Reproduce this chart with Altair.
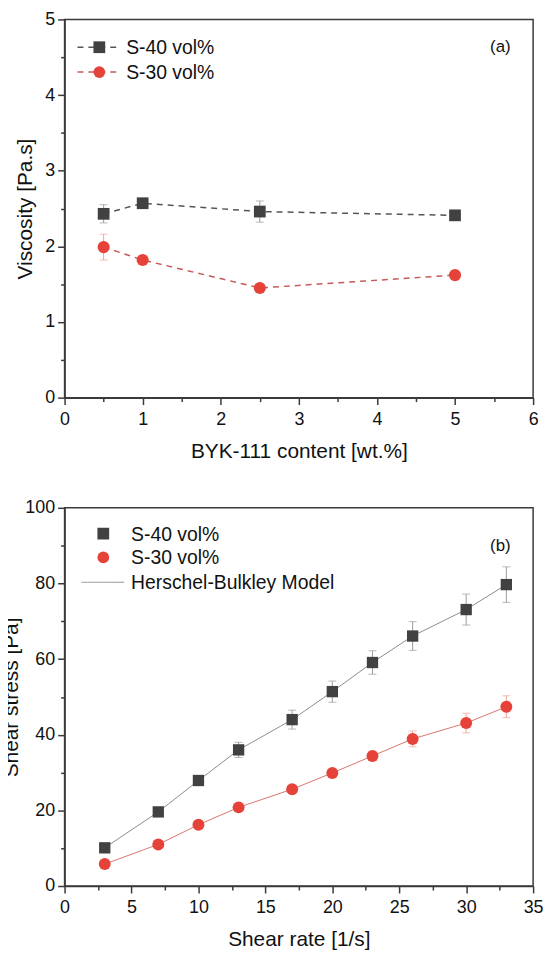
import altair as alt
import pandas as pd

# ---------------- data (a) ----------------
byk_content = [0.5, 1, 2.5, 5]
visc_s40 = [2.43, 2.57, 2.46, 2.41]
visc_s40_err = [0.12, 0.03, 0.14, 0.04]
visc_s30 = [1.99, 1.82, 1.45, 1.62]
visc_s30_err = [0.17, 0.04, 0.05, 0.05]

# ---------------- data (b) ----------------
shear_rate = [3, 7, 10, 13, 17, 20, 23, 26, 30, 33]
stress_s40 = [10.1, 19.6, 27.9, 36.0, 44.0, 51.4, 59.1, 66.1, 73.1, 79.7]
stress_s40_err = [0.6, 0.8, 1.3, 2.0, 2.5, 2.8, 3.1, 3.8, 4.1, 4.7]
stress_s30 = [5.8, 11.0, 16.2, 20.8, 25.6, 29.9, 34.4, 38.9, 43.1, 47.4]
stress_s30_err = [0.4, 0.5, 0.6, 0.6, 0.7, 0.8, 1.2, 2.1, 2.6, 2.9]

labels = ["S-40 vol%", "S-30 vol%", "Herschel-Bulkley Model"]

FONT = "Liberation Sans"
W, H = 472, 381
GRAY = "#414141"
RED = "#e5433a"


def frame(x, y, e):
    return pd.DataFrame({"x": x, "y": y,
                         "lo": [a - b for a, b in zip(y, e)],
                         "hi": [a + b for a, b in zip(y, e)]})


def make_axis(title, values, major_mod, title_pad, label_pad):
    return alt.Axis(
        title=title,
        values=values,
        labelExpr=f"datum.value % {major_mod} === 0 ? format(datum.value, 'd') : ''",
        tickSize={"condition": {"test": f"datum.value % {major_mod} !== 0", "value": 4}, "value": 7},
        titlePadding=title_pad,
        labelPadding=label_pad,
        labelFlush=False,
        labelOverlap=False,
    )


def legend_layer(rows):
    layers = []
    for r in rows:
        base = alt.Chart(alt.Data(values=[{}]))
        if r.get("line"):
            x1, x2 = r["line"]
            layers.append(base.mark_rule(color=r["lcolor"], strokeWidth=r.get("lwidth", 1.5),
                                         strokeDash=r.get("dash", [1, 0])).encode(
                x=alt.value(x1), x2=alt.value(x2), y=alt.value(r["y"])))
        if r.get("shape"):
            layers.append(base.mark_point(shape=r["shape"], filled=True, size=140, opacity=1,
                                          color=r["color"]).encode(
                x=alt.value(r["mx"]), y=alt.value(r["y"])))
        layers.append(base.mark_text(align="left", baseline="middle", font=FONT, fontSize=19.5,
                                     color="#111").encode(
            x=alt.value(r["tx"]), y=alt.value(r["y"] + 1), text=alt.value(r["text"])))
    return layers


# ---------------- panel (a) ----------------
xa = alt.X("x:Q", scale=alt.Scale(domain=[0, 6], nice=False),
           axis=make_axis("BYK-111 content [wt.%]", [i * 0.5 for i in range(13)], 1, 12, 6))
ya = alt.Y("y:Q", scale=alt.Scale(domain=[0, 5], nice=False),
           axis=make_axis("Viscosity [Pa.s]", [i * 0.5 for i in range(11)], 1, 9, 3))
ya_lo = alt.Y("lo:Q", scale=alt.Scale(domain=[0, 5], nice=False),
              axis=make_axis("Viscosity [Pa.s]", [i * 0.5 for i in range(11)], 1, 9, 3))

da40 = frame(byk_content, visc_s40, visc_s40_err)
da30 = frame(byk_content, visc_s30, visc_s30_err)

DASH = [6, 5]
top_layers = [
    alt.Chart(da40).mark_line(color="#555555", strokeWidth=1.5, strokeDash=DASH).encode(x=xa, y=ya),
    alt.Chart(da30).mark_line(color="#c65a58", strokeWidth=1.5, strokeDash=DASH).encode(x=xa, y=ya),
    alt.Chart(da40).mark_errorbar(ticks=True, color="#9a9a9a", size=8, thickness=1).encode(x=xa, y=ya_lo, y2="hi:Q"),
    alt.Chart(da30).mark_errorbar(ticks=True, color="#eba39b", size=8, thickness=1).encode(x=xa, y=ya_lo, y2="hi:Q"),
    alt.Chart(da40).mark_point(shape="square", filled=True, size=140, opacity=1, color=GRAY).encode(x=xa, y=ya),
    alt.Chart(da30).mark_point(shape="circle", filled=True, size=150, opacity=1, color=RED).encode(x=xa, y=ya),
]
top_layers += legend_layer([
    {"line": (13, 57), "lcolor": "#555555", "dash": DASH, "shape": "square", "color": GRAY,
     "mx": 35, "tx": 62, "y": 28, "text": labels[0]},
    {"line": (13, 57), "lcolor": "#c65a58", "dash": DASH, "shape": "circle", "color": RED,
     "mx": 35, "tx": 62, "y": 53, "text": labels[1]},
])
top_layers.append(alt.Chart(alt.Data(values=[{}])).mark_text(font=FONT, fontSize=17, color="#111").encode(
    x=alt.value(439), y=alt.value(28), text=alt.value("(a)")))
top = alt.layer(*top_layers).properties(width=W, height=H)

# ---------------- panel (b) ----------------
xb = alt.X("x:Q", scale=alt.Scale(domain=[0, 35], nice=False),
           axis=make_axis("Shear rate [1/s]", [i * 2.5 for i in range(15)], 5, 12, 6))
yb = alt.Y("y:Q", scale=alt.Scale(domain=[0, 100], nice=False),
           axis=make_axis("Shear stress [Pa]", [i * 10 for i in range(11)], 20, 3, 3))
yb_lo = alt.Y("lo:Q", scale=alt.Scale(domain=[0, 100], nice=False),
              axis=make_axis("Shear stress [Pa]", [i * 10 for i in range(11)], 20, 3, 3))

db40 = frame(shear_rate, stress_s40, stress_s40_err)
db30 = frame(shear_rate, stress_s30, stress_s30_err)

bot_layers = [
    alt.Chart(db40).mark_line(color="#8c8c8c", strokeWidth=1).encode(x=xb, y=yb),
    alt.Chart(db30).mark_line(color="#d9766d", strokeWidth=1).encode(x=xb, y=yb),
    alt.Chart(db40).mark_errorbar(ticks=True, color="#9a9a9a", size=8, thickness=1).encode(x=xb, y=yb_lo, y2="hi:Q"),
    alt.Chart(db30).mark_errorbar(ticks=True, color="#eba39b", size=8, thickness=1).encode(x=xb, y=yb_lo, y2="hi:Q"),
    alt.Chart(db40).mark_point(shape="square", filled=True, size=130, opacity=1, color=GRAY).encode(x=xb, y=yb),
    alt.Chart(db30).mark_point(shape="circle", filled=True, size=145, opacity=1, color=RED).encode(x=xb, y=yb),
]
bot_layers += legend_layer([
    {"shape": "square", "color": GRAY, "mx": 39, "tx": 67, "y": 26, "text": labels[0]},
    {"shape": "circle", "color": RED, "mx": 39, "tx": 67, "y": 50, "text": labels[1]},
    {"line": (17, 60), "lcolor": "#8c8c8c", "lwidth": 1, "tx": 67, "y": 75, "text": labels[2]},
])
bot_layers.append(alt.Chart(alt.Data(values=[{}])).mark_text(font=FONT, fontSize=17, color="#111").encode(
    x=alt.value(439), y=alt.value(38), text=alt.value("(b)")))
bottom = alt.layer(*bot_layers).properties(width=W, height=H)

chart = alt.vconcat(top, bottom, spacing=36).properties(
    padding={"left": -8, "top": -2, "right": 5, "bottom": 5}
).configure_view(
    stroke="#3a3a3a", strokeWidth=1.5
).configure_axis(
    grid=False, domainColor="#3a3a3a", domainWidth=1.5, tickColor="#3a3a3a", tickWidth=1.5,
    labelFont=FONT, labelFontSize=18, labelColor="#111",
    titleFont=FONT, titleFontSize=21, titleFontWeight="normal", titleColor="#111",
)

chart.save("out.html", embed_options={"renderer": "svg", "actions": False})
